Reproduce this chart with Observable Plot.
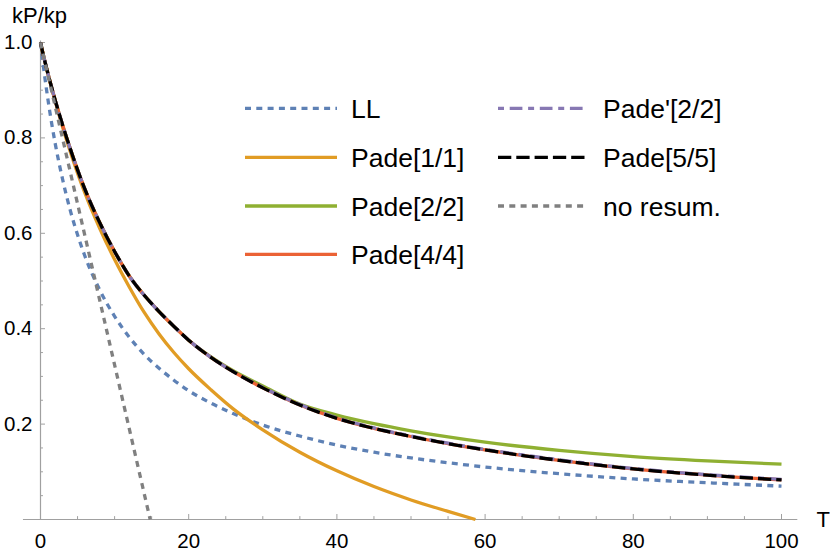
<!DOCTYPE html>
<html><head><meta charset="utf-8">
<script src="https://cdn.jsdelivr.net/npm/d3@7"></script>
<script src="https://cdn.jsdelivr.net/npm/@observablehq/plot@0.6"></script>
<style>body{margin:0;background:#fff}</style>
</head><body><div id="chart"></div>
<script>
// ---- data ----
const T = [0,0.5,1,2,3,4,5,6,8,10,12,14,16,18,20,23,26,30,35,40,45,50,55,60,70,80,90,100];
const LL      = [1,0.937,0.881,0.787,0.712,0.649,0.597,0.552,0.481,0.426,0.382,0.346,0.317,0.292,0.270,0.244,0.222,0.198,0.175,0.156,0.141,0.129,0.119,0.110,0.096,0.085,0.077,0.070];
const pade22  = [1,0.966,0.935,0.878,0.826,0.778,0.733,0.692,0.622,0.562,0.510,0.470,0.436,0.405,0.376,0.341,0.312,0.280,0.242,0.219,0.201,0.186,0.173,0.162,0.145,0.132,0.123,0.116];
const pade44  = [1,0.966,0.935,0.878,0.826,0.778,0.733,0.692,0.622,0.562,0.510,0.470,0.436,0.405,0.376,0.340,0.310,0.276,0.240,0.212,0.191,0.174,0.159,0.146,0.124,0.106,0.093,0.083];
const padeP22 = [1,0.966,0.935,0.878,0.826,0.778,0.733,0.692,0.622,0.562,0.510,0.470,0.436,0.405,0.376,0.340,0.310,0.277,0.241,0.213,0.192,0.175,0.160,0.147,0.125,0.107,0.094,0.084];
const pade55  = [1,0.966,0.935,0.878,0.826,0.778,0.733,0.692,0.622,0.562,0.510,0.470,0.436,0.405,0.376,0.340,0.310,0.276,0.240,0.212,0.191,0.174,0.159,0.146,0.124,0.106,0.093,0.083];
const T11     = [0,0.5,1,2,3,4,5,6,8,10,12,14,16,18,20,23,26,30,35,40,45,50,55,58.7];
const pade11  = [1,0.966,0.934,0.876,0.822,0.772,0.726,0.684,0.610,0.545,0.487,0.434,0.389,0.350,0.316,0.272,0.232,0.188,0.141,0.102,0.069,0.041,0.017,0];
const Tnr     = [0,5,10,14.8];
const noResum = [1,0.662,0.324,0];

const xMajor = [0,20,40,60,80,100];
const xMinor = [5,10,15,25,30,35,45,50,55,65,70,75,85,90,95];
const yMajor = [0.2,0.4,0.6,0.8,1.0];
const yMinor = [0.05,0.1,0.15,0.25,0.3,0.35,0.45,0.5,0.55,0.65,0.7,0.75,0.85,0.9,0.95];

const series = [
  {name:"LL",         t:T,   v:LL,      color:"#5E81B5", dash:"6,5.3"},
  {name:"Pade[1/1]",  t:T11, v:pade11,  color:"#E19C24", dash:null},
  {name:"Pade[2/2]",  t:T,   v:pade22,  color:"#8FB032", dash:null},
  {name:"Pade[4/4]",  t:T,   v:pade44,  color:"#EB6235", dash:null},
  {name:"Pade'[2/2]", t:T,   v:padeP22, color:"#8778B3", dash:"6,5.7,12.7,5.7"},
  {name:"Pade[5/5]",  t:T,   v:pade55,  color:"#000000", dash:"13.3,5"},
  {name:"no resum.",  t:Tnr, v:noResum, color:"#808080", dash:"6,5.3"}
];

const axisColor = "#a0a0a0";
const lineMarks = series.map(s =>
  Plot.line(s.t.map((t,i)=>({T:t, v:s.v[i]})), {
    x:"T", y:"v", stroke:s.color, strokeWidth:3.3,
    strokeDasharray:s.dash, strokeLinecap:"butt", curve:"monotone-x"
  }));

const chart = Plot.plot({
  width:830, height:553,
  marginLeft:40, marginRight:49, marginTop:42, marginBottom:34,
  style:{fontFamily:"'Liberation Sans', Arial, sans-serif", background:"white", color:"black"},
  x:{domain:[0,100], axis:null},
  y:{domain:[0,1], axis:null},
  marks:[
    // axis lines
    Plot.ruleY([0], {x1:-2.3, x2:102.2, stroke:axisColor, strokeWidth:1.2}),
    Plot.ruleX([0], {y1:0, y2:1.003, stroke:axisColor, strokeWidth:1.2}),
    // ticks (inward)
    Plot.ruleX(xMajor, {x:d=>d, y1:0, y2:0.0105, stroke:axisColor}),
    Plot.ruleX(xMinor, {x:d=>d, y1:0, y2:0.006, stroke:axisColor}),
    Plot.ruleY(yMajor, {y:d=>d, x1:0, x2:0.675, stroke:axisColor}),
    Plot.ruleY(yMinor, {y:d=>d, x1:0, x2:0.4, stroke:axisColor}),
    // tick labels
    Plot.axisX({ticks:xMajor, tickSize:0, tickPadding:14, fontSize:20.5, tickFormat:d=>String(d), label:null}),
    Plot.axisY({ticks:yMajor, tickSize:0, tickPadding:8, fontSize:20.5, tickFormat:d3.format(".1f"), label:null}),
    ...lineMarks,
    // axis labels
    Plot.text(["kP/kp"], {frameAnchor:"top-left", text:d=>d, dx:-28.5, dy:-35.5, lineAnchor:"top", textAnchor:"start", fontSize:22}),
    Plot.text(["T"], {frameAnchor:"bottom-right", text:d=>d, dx:35, lineAnchor:"middle", textAnchor:"start", fontSize:22})
  ]
});

// legend inset (two columns)
const legendLayout = [
  {x0:245, x1:337, tx:351, y:108.3},
  {x0:245, x1:337, tx:351, y:157.3},
  {x0:245, x1:337, tx:351, y:206},
  {x0:245, x1:337, tx:351, y:254.3},
  {x0:498, x1:586, tx:603, y:108.3},
  {x0:498, x1:586, tx:603, y:157.3},
  {x0:498, x1:586, tx:603, y:206}
];
const g = d3.select(chart).append("g").attr("class","legend").attr("text-anchor","start");
series.forEach((s,i) => {
  const L = legendLayout[i];
  g.append("line").attr("x1",L.x0).attr("x2",L.x1).attr("y1",L.y).attr("y2",L.y)
    .attr("stroke",s.color).attr("stroke-width",3.3)
    .attr("stroke-dasharray",s.dash).attr("stroke-linecap","butt");
  g.append("text").attr("x",L.tx).attr("y",L.y).attr("dy","0.36em")
    .attr("text-anchor","start")
    .attr("font-size",26.5).attr("fill","black").text(s.name);
});

document.getElementById("chart").append(chart);
</script>
</body></html>
